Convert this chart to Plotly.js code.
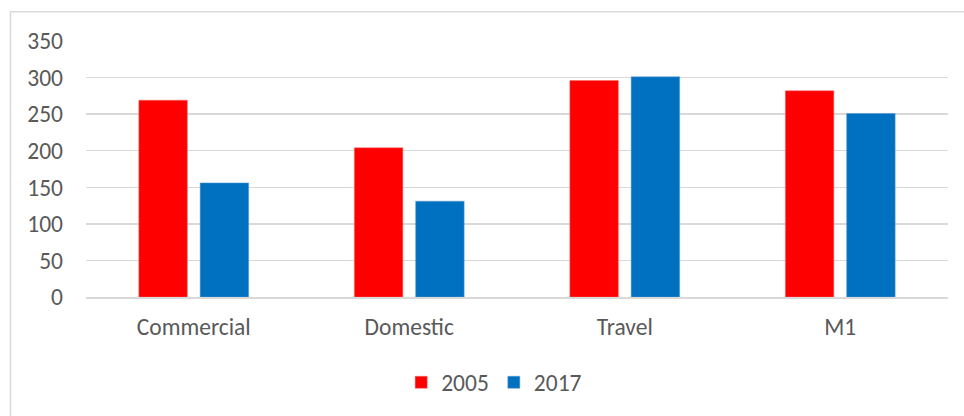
<!DOCTYPE html>
<html>
<head>
<meta charset="utf-8">
<script src="https://cdn.plot.ly/plotly-3.0.1.min.js"></script>
<style>html,body{margin:0;padding:0;background:#fff;}#chart{width:964px;height:416px;}</style>
</head>
<body>
<div id="chart"></div>
<script>
const categories = ["Commercial", "Domestic", "Travel", "M1"];
const values2005 = [269, 204, 296, 282];
const values2017 = [156, 131, 301, 251];
const seriesNames = ["2005", "2017"];
const yTicks = [0, 50, 100, 150, 200, 250, 300, 350];

const font = {family: "Carlito, Calibri, 'Open Sans', sans-serif", size: 23.5, color: "#595959"};

const traces = [
  {type: "bar", name: seriesNames[0], x: categories, y: values2005,
   marker: {color: "#ff0000", line: {color: "#ff6666", width: 0.5}}},
  {type: "bar", name: seriesNames[1], x: categories, y: values2017,
   marker: {color: "#0070c0", line: {color: "#5b9bd5", width: 0.5}}}
];

const layout = {
  width: 964, height: 416,
  margin: {l: 86, r: 16, t: 41, b: 116, pad: 0},
  paper_bgcolor: "#ffffff", plot_bgcolor: "#ffffff",
  font: font,
  barmode: "group", bargap: 0.431, bargroupgap: 0.209,
  showlegend: true,
  legend: {orientation: "h", x: 0.4735, xanchor: "center", y: -0.248, yanchor: "top",
           font: font, itemclick: false, traceorder: "normal", itemwidth: 30},
  xaxis: {type: "category", showgrid: false, showline: true, linecolor: "#d9d9d9", linewidth: 1.5,
          ticks: "", ticklabelstandoff: 8, tickfont: font, fixedrange: true, zeroline: false},
  yaxis: {range: [0, 350], tickvals: yTicks, ticktext: yTicks.map(String), showgrid: true,
          gridcolor: "#d9d9d9", gridwidth: 1.5, zeroline: false, showline: false, ticks: "",
          ticklabelstandoff: 22, tickfont: font, fixedrange: true},
  shapes: [{type: "rect", xref: "paper", yref: "paper", x0: -0.0876, x1: 1.05, y0: -0.5, y1: 1.1139,
            line: {color: "#d9d9d9", width: 1.5}, fillcolor: "rgba(0,0,0,0)", layer: "below"}]
};

Plotly.newPlot("chart", traces, layout, {displayModeBar: false, staticPlot: true});
</script>
</body>
</html>
